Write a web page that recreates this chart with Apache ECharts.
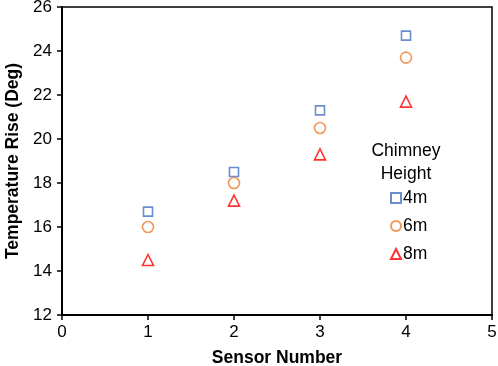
<!DOCTYPE html>
<html>
<head>
<meta charset="utf-8">
<script src="https://cdn.jsdelivr.net/npm/echarts@6/dist/echarts.min.js"></script>
<style>
  html, body { margin: 0; padding: 0; background: #fff; }
  #chart { width: 498px; height: 366px; }
</style>
</head>
<body>
<div id="chart"></div>
<script>
// sensor positions and readings per chimney height
const sensors = [1, 2, 3, 4];
const rise4m = [16.7, 18.5, 21.3, 24.7];
const rise6m = [16.0, 18.0, 20.5, 23.7];
const rise8m = [14.5, 17.2, 19.3, 21.7];

const FONT = 'Liberation Sans, Arial, sans-serif';

function pts(vals) {
  return sensors.map((s, i) => [s, vals[i]]);
}

function makeSeries(name, vals, symbol, size, color) {
  return {
    name: name,
    type: 'scatter',
    data: pts(vals),
    symbol: symbol,
    symbolSize: size,
    itemStyle: { color: '#fff', borderColor: color, borderWidth: 1.6 }
  };
}

let chart = echarts.init(document.getElementById('chart'), null, { renderer: 'canvas' });

chart.setOption({
  animation: false,
  backgroundColor: '#fff',
  title: {
    text: 'Chimney\nHeight',
    left: 406,
    top: 140,
    padding: 0,
    textAlign: 'center',
    textStyle: { fontFamily: FONT, fontSize: 17.5, fontWeight: 'normal', color: '#000', lineHeight: 23 }
  },
  legend: {
    orient: 'vertical',
    left: 390,
    top: 189,
    padding: 0,
    itemWidth: 10,
    itemHeight: 10,
    itemGap: 10,
    textStyle: { fontFamily: FONT, fontSize: 17.5, color: '#000', padding: [0, 0, 0, -3] },
    data: ['4m', '6m', '8m']
  },
  grid: {
    left: 62, right: 6, top: 7, bottom: 51,
    outerBoundsMode: 'none',
    show: true, borderColor: '#000', borderWidth: 1.5
  },
  xAxis: {
    type: 'value',
    min: 0, max: 5, interval: 1,
    name: 'Sensor Number',
    nameLocation: 'middle',
    nameGap: 34,
    nameTextStyle: { fontFamily: FONT, fontSize: 17.5, fontWeight: 'bold', color: '#000' },
    axisLine: { onZero: false, lineStyle: { color: '#000', width: 2 } },
    axisTick: { show: true, length: 5, lineStyle: { color: '#000', width: 1.5 } },
    axisLabel: { fontFamily: FONT, fontSize: 17, color: '#000', margin: 9 },
    splitLine: { show: false }
  },
  yAxis: {
    type: 'value',
    min: 12, max: 26, interval: 2,
    name: 'Temperature Rise (Deg)',
    nameLocation: 'middle',
    nameGap: 40,
    nameTextStyle: { fontFamily: FONT, fontSize: 17.5, fontWeight: 'bold', color: '#000' },
    axisLine: { onZero: false, lineStyle: { color: '#000', width: 2 } },
    axisTick: { show: true, length: 5, lineStyle: { color: '#000', width: 1.5 } },
    axisLabel: { fontFamily: FONT, fontSize: 17, color: '#000', margin: 10 },
    splitLine: { show: false }
  },
  series: [
    makeSeries('4m', rise4m, 'rect', 9, '#4472C4'),
    makeSeries('6m', rise6m, 'circle', 11, '#ED7D31'),
    makeSeries('8m', rise8m, 'triangle', 11, '#FF0000')
  ]
});
</script>
</body>
</html>
